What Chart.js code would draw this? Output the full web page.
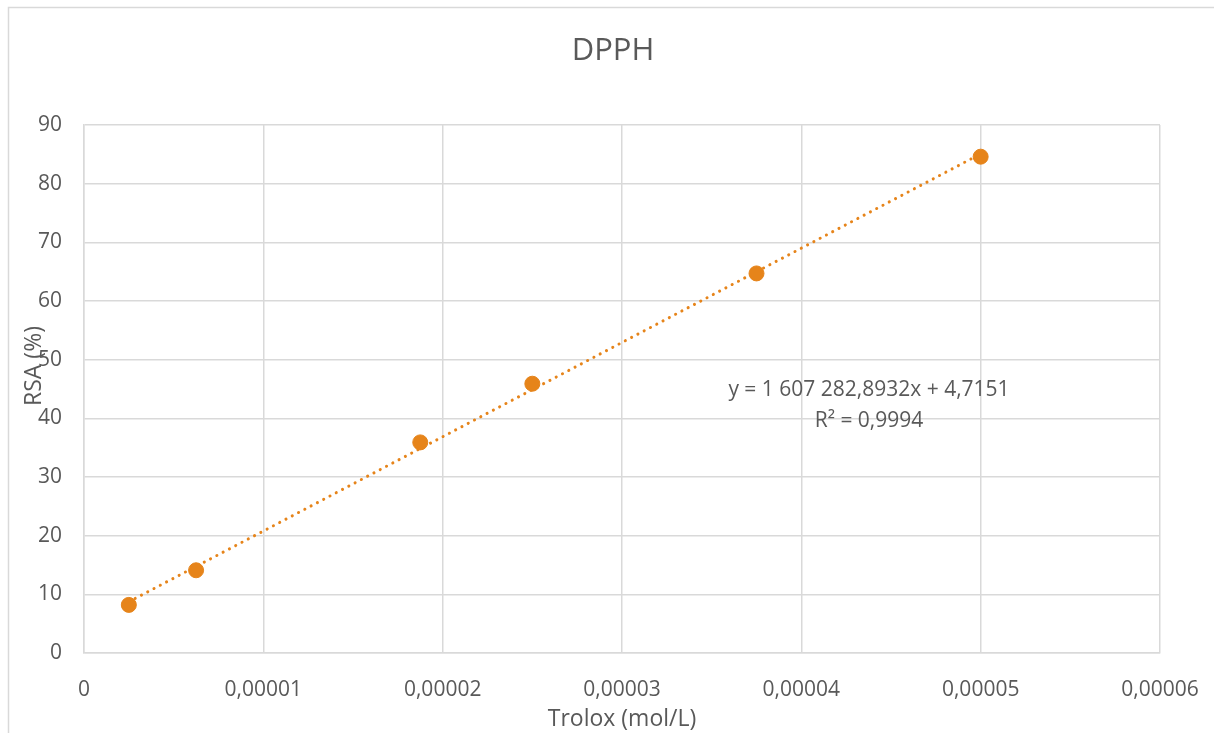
<!DOCTYPE html>
<html>
<head>
<meta charset="utf-8">
<script src="https://cdn.jsdelivr.net/npm/chart.js@4"></script>
<style>
html,body{margin:0;padding:0;background:#fff;}
#wrap{width:1214px;height:733px;}
</style>
</head>
<body>
<div id="wrap"><canvas id="c" width="1214" height="733"></canvas></div>
<script>
const trolox = [0.0000025, 0.00000625, 0.00001875, 0.000025, 0.0000375, 0.00005];
const rsa = [8.2, 14.1, 35.9, 45.9, 64.7, 84.6];
const slope = 1607282.8932;
const intercept = 4.7151;
const xTicks = ['0', '0,00001', '0,00002', '0,00003', '0,00004', '0,00005', '0,00006'];
const yTicks = [0, 10, 20, 30, 40, 50, 60, 70, 80, 90];
const chartTitle = 'DPPH';
const xTitle = 'Trolox (mol/L)';
const yTitle = 'RSA (%)';
const eqText = 'y = 1 607 282,8932x + 4,7151';
const r2Text = 'R² = 0,9994';

const FONT = "'Open Sans', sans-serif";
const TXT = '#595959';
const ORANGE = '#E6841A';
const GRID = '#d9d9d9';

const xMin = Math.min(...trolox), xMax = Math.max(...trolox);
const trend = [{x:xMin, y:slope*xMin+intercept},{x:xMax, y:slope*xMax+intercept}];

const textPlugin = {
  id:'texts',
  beforeDraw(chart){
    const ctx = chart.ctx;
    ctx.save();
    ctx.fillStyle='#fff';
    ctx.fillRect(0,0,chart.width,chart.height);
    ctx.strokeStyle=GRID; ctx.lineWidth=1.5;
    ctx.beginPath();
    ctx.moveTo(8.5, 740); ctx.lineTo(8.5, 7.5); ctx.lineTo(1214, 7.5);
    ctx.stroke();
    ctx.restore();
  },
  afterDraw(chart){
    const ctx = chart.ctx;
    const xs = chart.scales.x;
    ctx.save();
    ctx.fillStyle = TXT;
    ctx.textAlign='center'; ctx.textBaseline='middle';
    ctx.font = "31px " + FONT;
    ctx.fillText(chartTitle, 613, 51);
    ctx.font = "23px " + FONT;
    ctx.fillText(xTitle, (xs.left+xs.right)/2, 719);
    ctx.font = "21px " + FONT;
    ctx.fillText(eqText, 869, 390);
    ctx.fillText(r2Text, 869, 421);
    ctx.translate(34, 366);
    ctx.rotate(-Math.PI/2);
    ctx.font = "23px " + FONT;
    ctx.fillText(yTitle, 0, 0);
    ctx.restore();
  }
};

new Chart(document.getElementById('c'), {
  type:'scatter',
  data:{
    datasets:[
      {
        label:'Trendline',
        type:'line',
        data:trend,
        borderColor:ORANGE,
        borderWidth:3,
        borderDash:[0.1,7],
        borderCapStyle:'round',
        pointRadius:0,
        fill:false,
        order:2
      },
      {
        label:'RSA',
        data:trolox.map((x,i)=>({x, y:rsa[i]})),
        backgroundColor:ORANGE,
        borderColor:ORANGE,
        pointRadius:7.5,
        pointHoverRadius:7.5,
        order:1
      }
    ]
  },
  options:{
    responsive:false,
    animation:false,
    events:[],
    layout:{padding:{top:125,right:54,left:0,bottom:0}},
    plugins:{legend:{display:false}, title:{display:false}, tooltip:{enabled:false}},
    scales:{
      x:{
        type:'linear', min:0, max:0.00006,
        afterFit(s){ s.height = 80; s.paddingLeft = 0; s.paddingRight = 0; },
        afterBuildTicks(s){ s.ticks = xTicks.map((t,i)=>({value:i*0.00001})); },
        ticks:{
          callback:(v,i)=>xTicks[i],
          color:TXT, font:{family:FONT, size:21}, padding:24, maxRotation:0, autoSkip:false
        },
        grid:{color:GRID, lineWidth:1.5, drawTicks:false},
        border:{color:GRID, width:1.5}
      },
      y:{
        type:'linear', min:0, max:90,
        afterFit(s){ s.width = 84; s.paddingTop = 0; s.paddingBottom = 0; },
        afterBuildTicks(s){ s.ticks = yTicks.map(v=>({value:v})); },
        ticks:{ color:TXT, font:{family:FONT, size:21}, padding:22 },
        grid:{color:GRID, lineWidth:1.5, drawTicks:false},
        border:{color:GRID, width:1.5}
      }
    }
  },
  plugins:[textPlugin]
});
</script>
</body>
</html>
